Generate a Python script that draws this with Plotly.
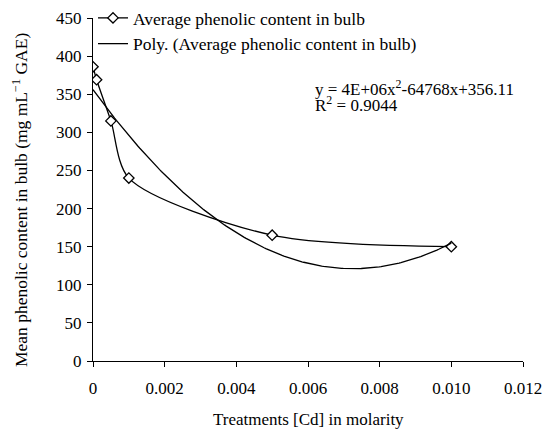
import numpy as np
import plotly.graph_objects as go

treatments = [0.0, 0.0001, 0.0005, 0.001, 0.005, 0.01]
phenolic = [386, 369, 315, 240, 165, 150]
x_ticks = [0, 0.002, 0.004, 0.006, 0.008, 0.010, 0.012]
x_tick_labels = ["0", "0.002", "0.004", "0.006", "0.008", "0.010", "0.012"]
y_ticks = [0, 50, 100, 150, 200, 250, 300, 350, 400, 450]

# Excel-style 2nd order polynomial trendline fitted to the data
coef = np.polyfit(treatments, phenolic, 2)
xf = np.linspace(0, 0.01, 200)
yf = np.polyval(coef, xf)

font = "Liberation Serif, Times New Roman, serif"

fig = go.Figure()
fig.add_trace(go.Scatter(
    x=treatments, y=phenolic, mode="lines+markers",
    name="Average phenolic content in bulb",
    line=dict(color="black", width=1.3, shape="spline", smoothing=0.8),
    marker=dict(symbol="diamond", size=8, color="white",
                line=dict(color="black", width=1.3)),
))
fig.add_trace(go.Scatter(
    x=xf, y=yf, mode="lines",
    name="Poly. (Average phenolic content in bulb)",
    line=dict(color="black", width=1.3),
))

fig.update_layout(
    width=547, height=431,
    margin=dict(l=93, r=24, t=18, b=70, autoexpand=False),
    plot_bgcolor="white", paper_bgcolor="white",
    font=dict(family=font, size=17, color="black"),
    showlegend=True,
    legend=dict(x=93 / 547, y=1.0, xref="container", yref="container",
                xanchor="left", yanchor="top",
                bgcolor="rgba(0,0,0,0)", font=dict(size=17.5),
                itemwidth=30, tracegroupgap=0),
    xaxis=dict(range=[0, 0.012], tickvals=x_ticks, ticktext=x_tick_labels,
               showgrid=False, zeroline=False, showline=True, automargin=False,
               linecolor="black", linewidth=1.3, ticks="outside",
               ticklen=5, tickwidth=1.3, tickcolor="black",
               tickfont=dict(size=17), ticklabelstandoff=6),
    yaxis=dict(range=[0, 450], tickvals=y_ticks,
               showgrid=False, zeroline=False, showline=True, automargin=False,
               linecolor="black", linewidth=1.3, ticks="outside",
               ticklen=5, tickwidth=1.3, tickcolor="black",
               tickfont=dict(size=17), ticklabelstandoff=2),
    annotations=[
        dict(x=0.00614, y=358, xref="x", yref="y", xanchor="left", yanchor="middle",
             text="y = 4E+06x<sup>2</sup>-64768x+356.11", showarrow=False,
             font=dict(size=17)),
        dict(x=0.00614, y=337, xref="x", yref="y", xanchor="left", yanchor="middle",
             text="R<sup>2</sup> = 0.9044", showarrow=False,
             font=dict(size=17)),
        dict(x=0.5, y=-0.172, xref="paper", yref="paper", xanchor="center",
             yanchor="middle", text="Treatments [Cd] in molarity",
             showarrow=False, font=dict(size=17)),
        dict(x=-0.17, y=0.469, xref="paper", yref="paper", xanchor="center",
             yanchor="middle", textangle=-90,
             text="Mean phenolic content in bulb (mg mL<sup>\u22121</sup> GAE)",
             showarrow=False, font=dict(size=17.5)),
    ],
)

fig.write_html("out.html", config={"displayModeBar": False},
               post_script="document.body.style.margin='0';")
